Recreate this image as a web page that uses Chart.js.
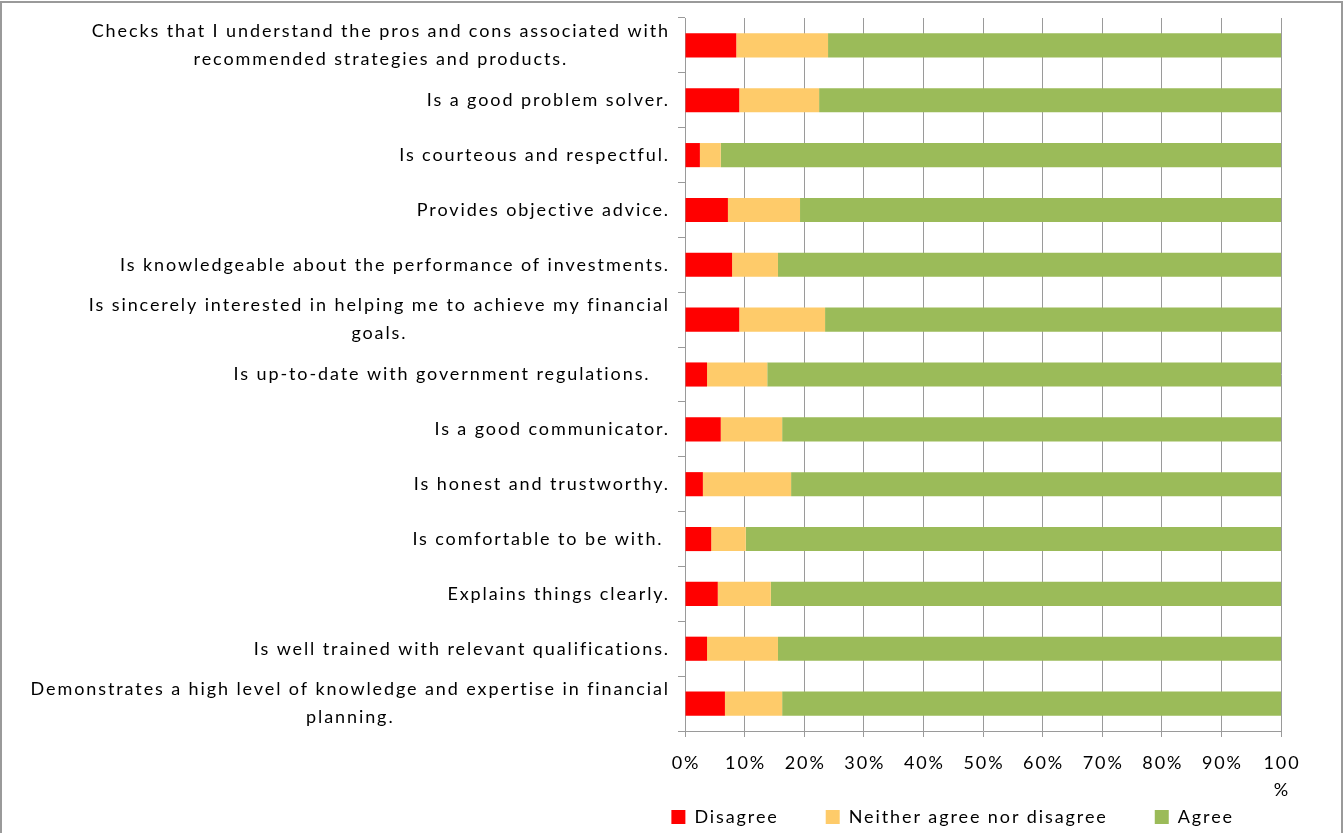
<!DOCTYPE html>
<html>
<head>
<meta charset="utf-8">
<script src="https://cdn.jsdelivr.net/npm/chart.js@4"></script>
<style>
  body { margin: 0; background: #fff; }
  canvas { display: block; }
</style>
</head>
<body>
<canvas id="BarChart" width="1343" height="833"></canvas>
<script>
const categories = [
  ["Checks that I understand the pros and cons associated with", "recommended strategies and products."],
  ["Is a good problem solver."],
  ["Is courteous and respectful."],
  ["Provides objective advice."],
  ["Is knowledgeable about the performance of investments."],
  ["Is sincerely interested in helping me to achieve my financial", "goals."],
  ["Is up-to-date with government regulations.   "],
  ["Is a good communicator."],
  ["Is honest and trustworthy."],
  ["Is comfortable to be with. "],
  ["Explains things clearly."],
  ["Is well trained with relevant qualifications."],
  ["Demonstrates a high level of knowledge and expertise in financial", "planning."],
];

const disagree = [8.6, 9.1, 2.5, 7.2, 7.9, 9.1, 3.7, 6.0, 3.0, 4.4, 5.5, 3.7, 6.7];
const neither = [15.4, 13.4, 3.5, 12.1, 7.7, 14.4, 10.1, 10.3, 14.8, 5.8, 8.9, 11.9, 9.6];
const agree = [76.0, 77.5, 94.0, 80.7, 84.4, 76.5, 86.2, 83.7, 82.2, 89.8, 85.6, 84.4, 83.7];

const seriesNames = ["Disagree", "Neither agree nor disagree", "Agree"];
const xTicks = [0, 10, 20, 30, 40, 50, 60, 70, 80, 90, 100];
const xTickLabels = [["0%"], ["10%"], ["20%"], ["30%"], ["40%"], ["50%"], ["60%"], ["70%"], ["80%"], ["90%"], ["100", "%"]];

const fontFamily = "Lato";
const fontSize = 18;
const spacing = "1.9px";
const gridColor = "#9a9a9a";

// wide, spaced out text like the original, the outer frame, and the
// axis labels (category blocks right aligned with lines centred in them)
const chartDecor = {
  id: "chartDecor",
  beforeUpdate(chart) {
    chart.ctx.letterSpacing = spacing;
  },
  beforeDraw(chart) {
    const ctx = chart.ctx;
    ctx.save();
    ctx.strokeStyle = gridColor;
    ctx.lineWidth = 2;
    ctx.strokeRect(1, 2, 1341, 860);
    ctx.restore();
  },
  afterDraw(chart) {
    const ctx = chart.ctx;
    const yScale = chart.scales.y;
    const xScale = chart.scales.x;
    ctx.save();
    ctx.font = fontSize + "px " + fontFamily;
    ctx.fillStyle = "#000";
    ctx.textAlign = "center";
    ctx.textBaseline = "middle";

    const right = 670;
    const lineHeight = 28;
    categories.forEach((lines, i) => {
      const y = yScale.getPixelForValue(i);
      const w = Math.max(...lines.map((l) => ctx.measureText(l).width));
      const cx = right - w / 2;
      lines.forEach((line, j) => {
        ctx.fillText(line, cx, y + (j - (lines.length - 1) / 2) * lineHeight);
      });
    });

    xTicks.forEach((v, i) => {
      const x = xScale.getPixelForValue(v);
      xTickLabels[i].forEach((line, j) => {
        ctx.fillText(line, x + 1, xScale.top + 32 + j * 27);
      });
    });
    ctx.restore();
  },
};

const colors = ["#ff0000", "#fecb6a", "#9bbb59"];

const data = {
  labels: categories,
  datasets: [disagree, neither, agree].map((values, i) => ({
    label: seriesNames[i],
    data: values,
    backgroundColor: colors[i],
    borderWidth: 0,
    barPercentage: 0.44,
    categoryPercentage: 1,
  })),
};

const options = {
  indexAxis: "y",
  responsive: false,
  animation: false,
  devicePixelRatio: 1,
  layout: { padding: { top: 18, right: 62, left: 0, bottom: -3 } },
  scales: {
    x: {
      stacked: true,
      min: 0,
      max: 100,
      afterBuildTicks: (scale) => {
        scale.ticks = xTicks.map((v) => ({ value: v }));
      },
      afterFit: (scale) => {
        scale.height = 30;
      },
      ticks: { display: false },
      grid: { color: gridColor, tickLength: 6 },
      border: { color: gridColor },
    },
    y: {
      stacked: true,
      afterFit: (scale) => {
        scale.width = 685;
      },
      ticks: { display: false },
      grid: { offset: true, drawOnChartArea: false, color: gridColor, tickLength: 7 },
      border: { color: gridColor },
    },
  },
  plugins: {
    legend: {
      position: "bottom",
      align: "end",
      labels: {
        color: "#000",
        font: { family: fontFamily, size: fontSize },
        boxWidth: 14,
        boxHeight: 14,
        padding: 47,
      },
    },
    tooltip: { enabled: false },
  },
};

const ctx = document.getElementById("BarChart").getContext("2d");
new Chart(ctx, {
  type: "bar",
  data: data,
  options: options,
  plugins: [chartDecor],
});
</script>
</body>
</html>
